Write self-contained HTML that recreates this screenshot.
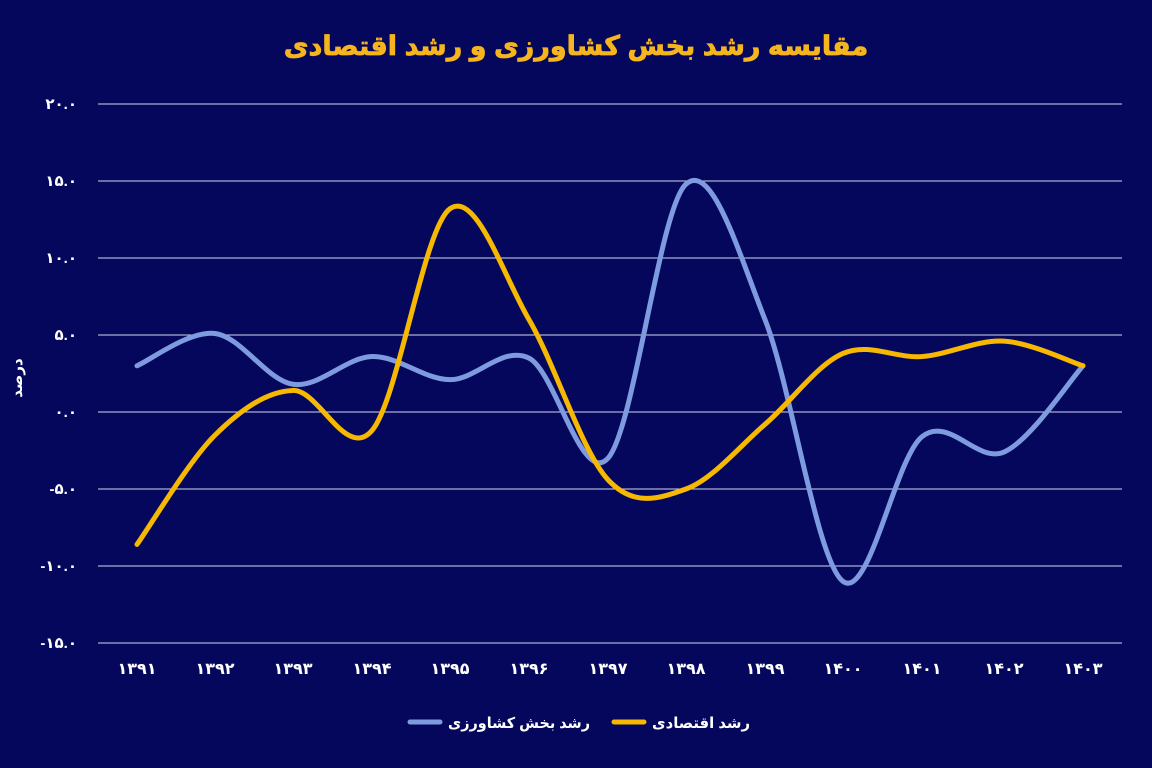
<!DOCTYPE html>
<html><head><meta charset="utf-8"><style>
body{margin:0;background:#04075c;}
svg{display:block}
text{font-family:"Liberation Sans","DejaVu Sans",sans-serif;}
</style></head><body>
<svg id="s" width="1152" height="768" viewBox="0 0 1152 768">
<rect width="1152" height="768" fill="#04075c"/>
<text x="576" y="55" text-anchor="middle" fill="#f6b51c" font-size="27" font-weight="bold" stroke="#f6b51c" stroke-width="0.8">مقایسه رشد بخش کشاورزی و رشد اقتصادی</text>
<g stroke="#d4d7ee" stroke-width="1">
<line x1="98" x2="1122" y1="104" y2="104"/><line x1="98" x2="1122" y1="181" y2="181"/>
<line x1="98" x2="1122" y1="258" y2="258"/><line x1="98" x2="1122" y1="335" y2="335"/>
<line x1="98" x2="1122" y1="412" y2="412"/><line x1="98" x2="1122" y1="489" y2="489"/>
<line x1="98" x2="1122" y1="566" y2="566"/><line x1="98" x2="1122" y1="643" y2="643"/>
</g>
<g fill="#fff" font-size="15" font-weight="bold" text-anchor="end">
<text x="77" y="109">۲۰.۰</text><text x="77" y="186">۱۵.۰</text><text x="77" y="263">۱۰.۰</text>
<text x="77" y="340">۵.۰</text><text x="77" y="417">۰.۰</text><text x="77" y="494">-۵.۰</text>
<text x="77" y="571">-۱۰.۰</text><text x="77" y="648">-۱۵.۰</text>
</g>
<text transform="translate(22,378) rotate(-90)" text-anchor="middle" fill="#fff" font-size="15" font-weight="bold">درصد</text>
<g id="xl" fill="#fff" font-size="16" font-weight="bold" text-anchor="middle"></g>
<path id="pa" fill="none" stroke="#7f9be0" stroke-width="5" stroke-linecap="round"/>
<path id="pe" fill="none" stroke="#f6b800" stroke-width="5" stroke-linecap="round"/>
<line x1="410" x2="440" y1="722" y2="722" stroke="#7f9be0" stroke-width="5" stroke-linecap="round"/>
<text x="590" y="728" text-anchor="end" fill="#fff" font-size="15" font-weight="bold" textLength="142" lengthAdjust="spacingAndGlyphs">رشد بخش کشاورزی</text>
<line x1="614" x2="644" y1="722" y2="722" stroke="#f6b800" stroke-width="5" stroke-linecap="round"/>
<text x="750" y="728" text-anchor="end" fill="#fff" font-size="15" font-weight="bold" textLength="98" lengthAdjust="spacingAndGlyphs">رشد اقتصادی</text>
</svg>
<script>
var xs=[137,215,293,372,450,529,608,686,765,843,922,1004,1083];
var lbl=['۱۳۹۱','۱۳۹۲','۱۳۹۳','۱۳۹۴','۱۳۹۵','۱۳۹۶','۱۳۹۷','۱۳۹۸','۱۳۹۹','۱۴۰۰','۱۴۰۱','۱۴۰۲','۱۴۰۳'];
var g=document.getElementById('xl'),h='';
xs.forEach(function(x,i){h+='<text x="'+x+'" y="674">'+lbl[i]+'</text>';});g.innerHTML=h;
function y(v){return 412-v*15.4;}
function path(vals){var p=vals.map(function(v,i){return [xs[i],y(v)];});
var d='M'+p[0][0]+','+p[0][1];
for(var i=0;i<p.length-1;i++){var p0=p[i-1]||p[i],p1=p[i],p2=p[i+1],p3=p[i+2]||p2;
d+=' C'+(p1[0]+(p2[0]-p0[0])/6)+','+(p1[1]+(p2[1]-p0[1])/6)+' '+(p2[0]-(p3[0]-p1[0])/6)+','+(p2[1]-(p3[1]-p1[1])/6)+' '+p2[0]+','+p2[1];}
return d;}
document.getElementById('pa').setAttribute('d',path([3.0,5.1,1.8,3.6,2.1,3.5,-3.0,14.8,6.0,-11,-1.6,-2.6,3.0]));
document.getElementById('pe').setAttribute('d',path([-8.6,-1.5,1.4,-1.2,13.2,6.0,-4.4,-5.0,-0.8,3.8,3.6,4.6,3.0]));
</script>
</body></html>
